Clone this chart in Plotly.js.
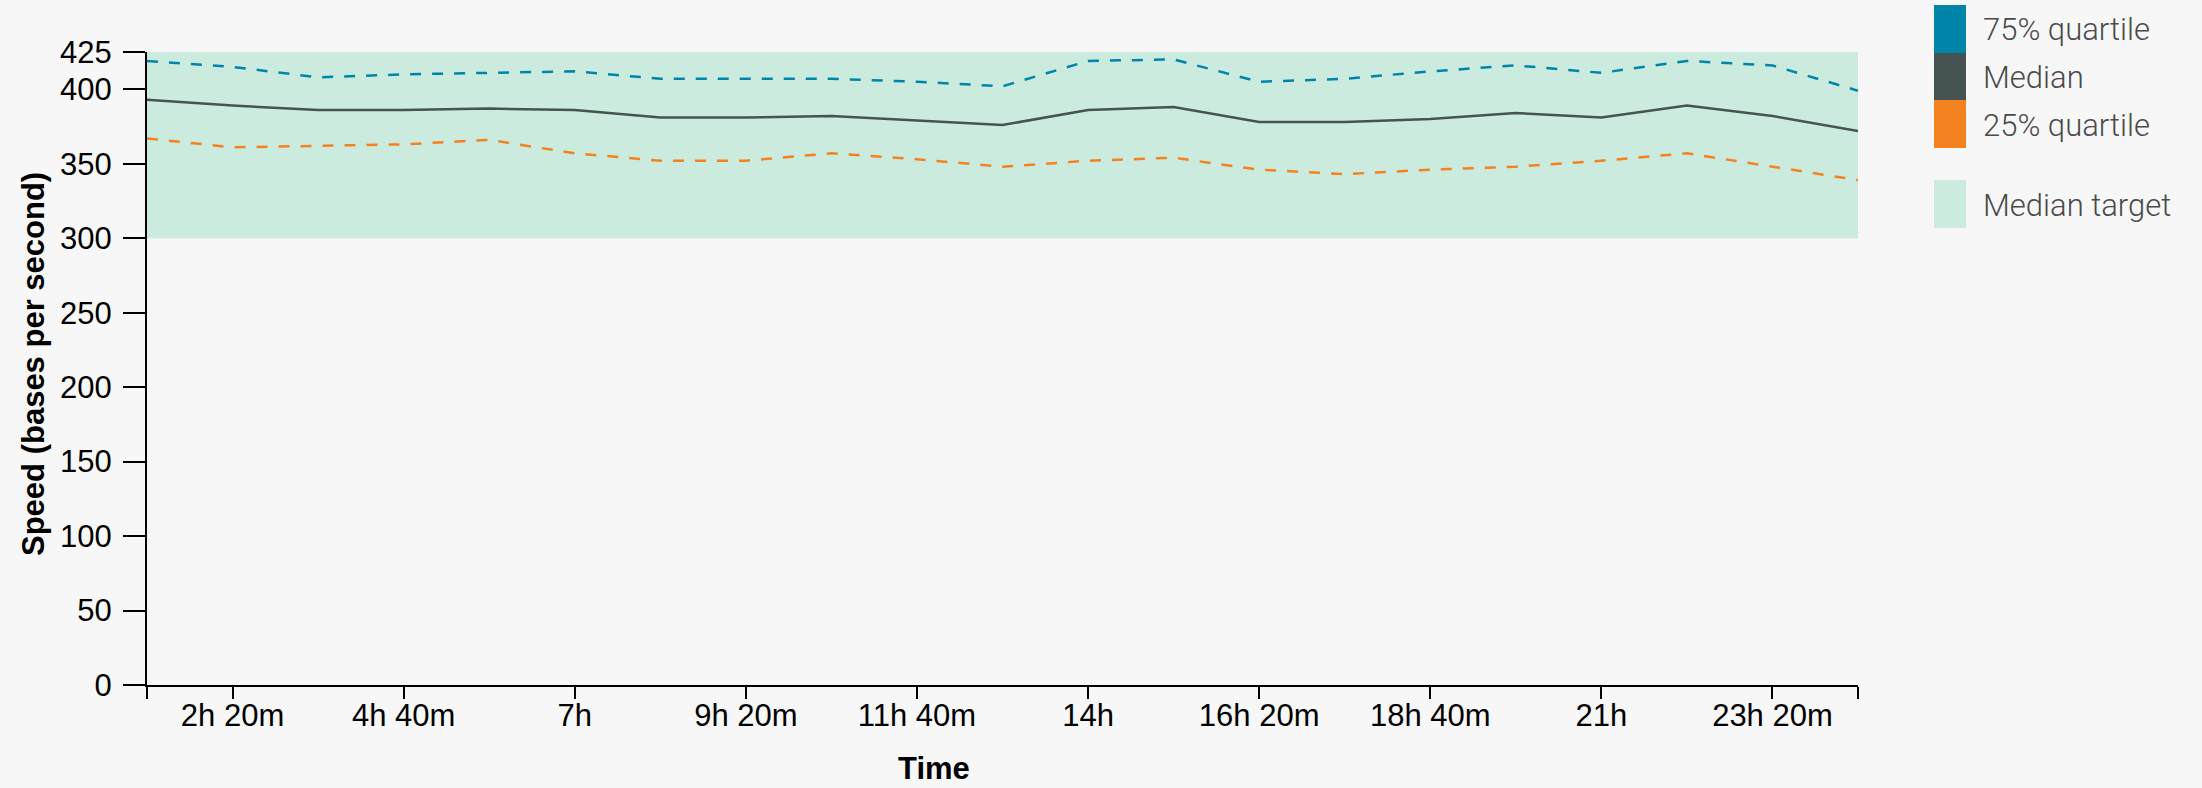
<!DOCTYPE html>
<html>
<head>
<meta charset="utf-8">
<script src="https://cdn.plot.ly/plotly-3.0.1.min.js"></script>
<style>
  html, body { margin: 0; padding: 0; background: #f7f7f7; }
  #chart { width: 2202px; height: 788px; }
</style>
</head>
<body>
<div id="chart"></div>
<script>
// ---- data ----
const timeMinutes = [70, 140, 210, 280, 350, 420, 490, 560, 630, 700, 770, 840, 910, 980, 1050, 1120, 1190, 1260, 1330, 1400, 1470];
const quartile75 = [419, 415, 408, 410, 411, 412, 407, 407, 407, 405, 402, 419, 420, 405, 407, 412, 416, 411, 419, 416, 399];
const median     = [393, 389, 386, 386, 387, 386, 381, 381, 382, 379, 376, 386, 388, 378, 378, 380, 384, 381, 389, 382, 372];
const quartile25 = [367, 361, 362, 363, 366, 357, 352, 352, 357, 353, 348, 352, 354, 346, 343, 346, 348, 352, 357, 348, 339];
const medianTarget = [300, 425];
const xTickVals  = [70, 140, 280, 420, 560, 700, 840, 980, 1120, 1260, 1400, 1470];
const xTickText  = ['', '2h 20m', '4h 40m', '7h', '9h 20m', '11h 40m', '14h', '16h 20m', '18h 40m', '21h', '23h 20m', ''];
const yTickVals  = [0, 50, 100, 150, 200, 250, 300, 350, 400, 425];
const yRange     = [0, 425];
const legendNames = ['75% quartile', 'Median', '25% quartile', 'Median target'];

// ---- styles ----
const C75 = '#0085aa', CMED = '#455353', C25 = '#f58220', CTGT = '#cbebdf';
const BG = '#f7f7f7';
const tickFont = { family: '"Liberation Sans", Arial, sans-serif', size: 31, color: '#000' };
const titleFont = { family: '"Liberation Sans", Arial, sans-serif', size: 31, color: '#000', weight: 'bold' };
const legFont = { family: 'Roboto, "Liberation Sans", sans-serif', size: 31, color: '#4a4a4a', weight: 300 };

const L = 147, R = 1858, T = 52, B = 685, W = 2202, H = 788;
const px2x = p => (p - L) / (R - L);
const px2y = p => (B - p) / (B - T);

const traces = [
  { x: timeMinutes, y: quartile75, type: 'scatter', mode: 'lines', name: legendNames[0],
    line: { color: C75, width: 2.5, dash: '11px,11px' } },
  { x: timeMinutes, y: median, type: 'scatter', mode: 'lines', name: legendNames[1],
    line: { color: CMED, width: 2.5 } },
  { x: timeMinutes, y: quartile25, type: 'scatter', mode: 'lines', name: legendNames[2],
    line: { color: C25, width: 2.5, dash: '11px,11px' } }
];

const shapes = [
  { type: 'rect', xref: 'x', yref: 'y', layer: 'below',
    x0: timeMinutes[0], x1: timeMinutes[timeMinutes.length - 1],
    y0: medianTarget[0], y1: medianTarget[1], fillcolor: CTGT, line: { width: 0 } }
];
const legendColors = [C75, CMED, C25, CTGT];
const swatchPx = [[5, 53], [53, 100], [100, 148], [180, 228]];
const annotations = [];
swatchPx.forEach((s, i) => {
  shapes.push({ type: 'rect', xref: 'paper', yref: 'paper',
    x0: px2x(1934), x1: px2x(1966), y0: px2y(s[1]), y1: px2y(s[0]),
    fillcolor: legendColors[i], line: { width: 0 } });
  annotations.push({ xref: 'paper', yref: 'paper', x: px2x(1981), y: px2y((s[0] + s[1]) / 2 + 1),
    xanchor: 'left', yanchor: 'middle', text: legendNames[i], showarrow: false, font: legFont });
});
annotations.push({ xref: 'paper', yref: 'paper', x: px2x(934), y: px2y(768), xanchor: 'center', yanchor: 'middle',
  text: 'Time', showarrow: false, font: titleFont });
annotations.push({ xref: 'paper', yref: 'paper', x: px2x(33), y: px2y(364), xanchor: 'center', yanchor: 'middle',
  text: 'Speed (bases per second)', textangle: -90, showarrow: false, font: titleFont });

const layout = {
  width: W, height: H,
  paper_bgcolor: BG, plot_bgcolor: BG,
  margin: { l: L, r: W - R, t: T, b: H - B, pad: 0 },
  showlegend: false,
  xaxis: {
    range: [timeMinutes[0], timeMinutes[timeMinutes.length - 1]],
    tickmode: 'array', tickvals: xTickVals, ticktext: xTickText,
    ticks: 'outside', ticklen: 12, tickwidth: 2, tickcolor: '#000',
    ticklabelstandoff: -10,
    showline: true, linecolor: '#000', linewidth: 2,
    showgrid: false, zeroline: false, tickfont: tickFont, fixedrange: true
  },
  yaxis: {
    range: yRange,
    tickmode: 'array', tickvals: yTickVals,
    ticks: 'outside', ticklen: 22, tickwidth: 2, tickcolor: '#000',
    ticklabelstandoff: 5,
    showline: true, linecolor: '#000', linewidth: 2,
    showgrid: false, zeroline: false, tickfont: tickFont, fixedrange: true
  },
  shapes: shapes,
  annotations: annotations
};

Plotly.newPlot('chart', traces, layout, { displayModeBar: false, staticPlot: true });
</script>
</body>
</html>
